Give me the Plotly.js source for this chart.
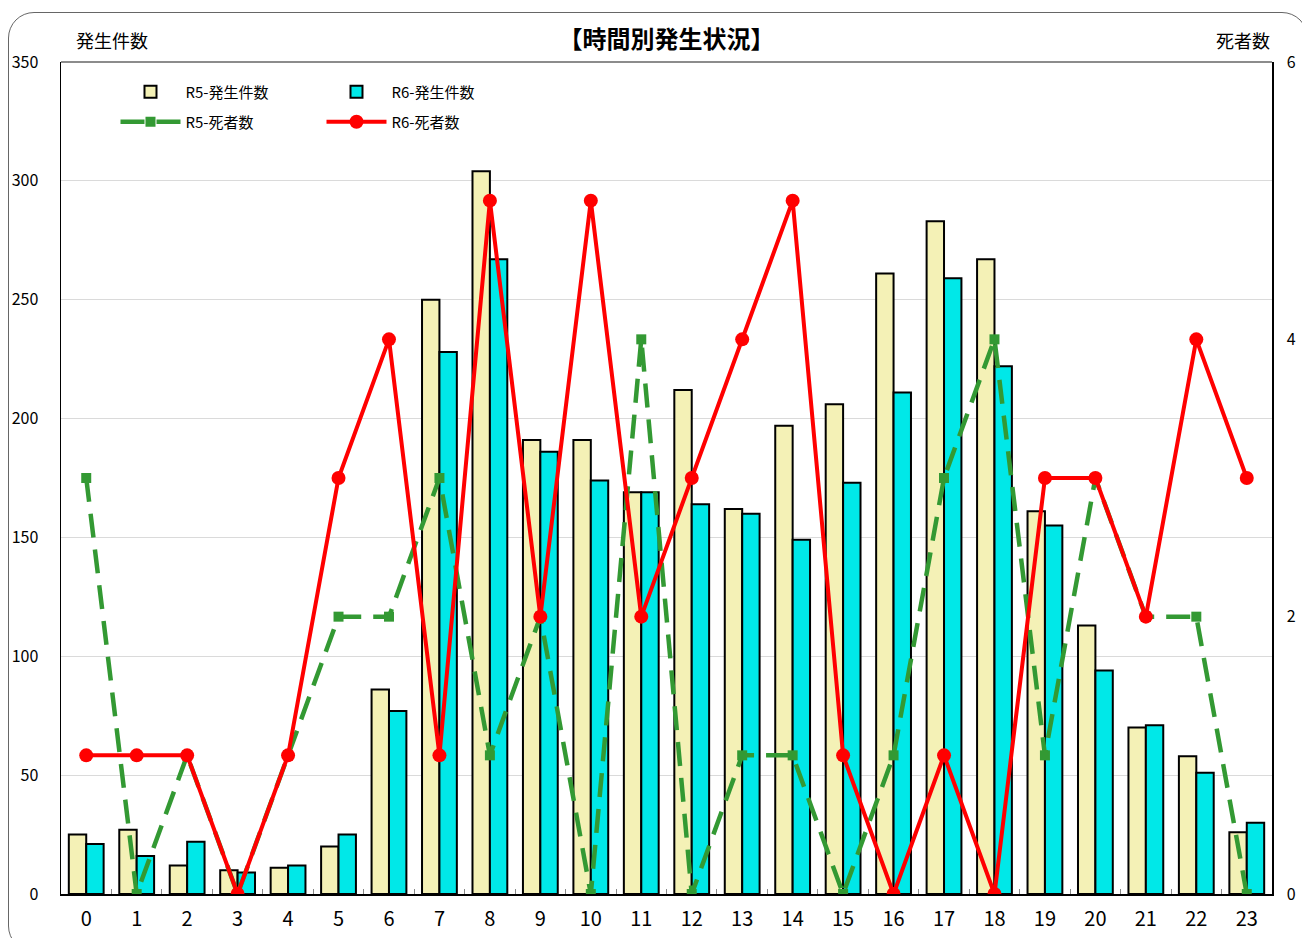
<!DOCTYPE html>
<html><head><meta charset="utf-8">
<script src="https://cdn.plot.ly/plotly-3.0.1.min.js"></script>
<style>
html,body{margin:0;padding:0;background:#fff;}
#wrap{position:relative;width:1302px;height:938px;}
#chart{position:absolute;left:0;top:0;width:1302px;height:938px;}
#frame{position:absolute;left:8px;top:12px;width:1300px;height:940px;border:1px solid #666;border-radius:26px;pointer-events:none;box-sizing:border-box;}
</style></head>
<body><div id="wrap"><div id="chart"></div><div id="frame"></div></div>
<script>
const hours = ['0','1','2','3','4','5','6','7','8','9','10','11','12','13','14','15','16','17','18','19','20','21','22','23'];
const r5Cases = [25,27,12,10,11,20,86,250,304,191,191,169,212,162,197,206,261,283,267,161,113,70,58,26];
const r6Cases = [21,16,22,9,12,25,77,228,267,186,174,169,164,160,149,173,211,259,222,155,94,71,51,30];
const r5Deaths = [3,0,1,0,1,2,2,3,1,2,0,4,0,1,1,0,1,3,4,1,3,2,2,0];
const r6Deaths = [1,1,1,0,1,3,4,1,5,2,5,2,3,4,5,1,0,1,0,3,3,2,4,3];
const leftTicks = [0,50,100,150,200,250,300,350];
const rightTicks = [0,2,4,6];

const font = 'Noto Sans CJK JP, Noto Sans, sans-serif';
const traces = [
 {type:'bar', name:'R5-発生件数', x:hours, y:r5Cases, legend:'legend',
  marker:{color:'#F4F1B6', line:{color:'#000', width:2}}},
 {type:'bar', name:'R6-発生件数', x:hours, y:r6Cases, legend:'legend',
  marker:{color:'#00E8E8', line:{color:'#000', width:2}}},
 {type:'scatter', mode:'lines+markers', name:'R5-死者数', x:hours, y:r5Deaths, yaxis:'y2', legend:'legend2',
  line:{color:'#339933', width:4.5, dash:'24px,12px'}, marker:{symbol:'square', size:10, color:'#339933'}},
 {type:'scatter', mode:'lines+markers', name:'R6-死者数', x:hours, y:r6Deaths, yaxis:'y2', legend:'legend2',
  line:{color:'#FF0000', width:4}, marker:{symbol:'circle', size:14, color:'#FF0000'}}
];
const layout = {
 width:1302, height:938,
 margin:{l:61, r:30, t:62, b:44},
 paper_bgcolor:'rgba(0,0,0,0)', plot_bgcolor:'#fff',
 font:{family:font, color:'#000', size:15},
 barmode:'group', bargap:0.31, bargroupgap:0,
 title:{text:'<b>【時間別発生状況】</b>', font:{size:24, family:font}, x:0.5, xref:'paper', y:1-40/938, yanchor:'middle', yref:'container'},
 xaxis:{type:'category', range:[-0.5,23.5], autorange:false, tickson:'boundaries', ticks:'inside', ticklen:5, tickcolor:'#888',
   showline:true, linecolor:'#000', linewidth:1.5, mirror:false, tickfont:{size:20}, showgrid:false, ticklabelstandoff:6},
 yaxis:{range:[0,350], tickvals:leftTicks, showgrid:true, gridcolor:'#DADADA', gridwidth:1,
   showline:true, linecolor:'#000', linewidth:1.5, ticks:'', ticklabelstandoff:18, tickfont:{size:16}, zeroline:false},
 yaxis2:{range:[0,6], tickvals:rightTicks, overlaying:'y', side:'right', showgrid:false,
   showline:true, linecolor:'#000', linewidth:1.5, ticks:'', ticklabelstandoff:10, tickfont:{size:16}, zeroline:false},
 legend:{orientation:'h', x:0.045, y:(894-92)/832, yanchor:'middle', xanchor:'left', entrywidth:131, entrywidthmode:'pixels',
   bgcolor:'rgba(0,0,0,0)', font:{size:15}, tracegroupgap:0, itemwidth:60},
 legend2:{orientation:'h', x:0.045, y:(894-122)/832, yanchor:'middle', xanchor:'left', entrywidth:131, entrywidthmode:'pixels',
   bgcolor:'rgba(0,0,0,0)', font:{size:15}, itemwidth:60},
 shapes:[{type:'line', xref:'paper', yref:'paper', x0:0, x1:1, y0:1, y1:1, line:{color:'#666', width:1.5}}],
 annotations:[
  {text:'発生件数', xref:'paper', yref:'paper', x:(112-61)/1211, y:(894-40)/832, xanchor:'center', yanchor:'middle', showarrow:false, font:{size:18}},
  {text:'死者数', xref:'paper', yref:'paper', x:(1243-61)/1211, y:(894-40)/832, xanchor:'center', yanchor:'middle', showarrow:false, font:{size:18}}
 ]
};
Plotly.newPlot('chart', traces, layout, {displayModeBar:false, staticPlot:true});
</script></body></html>
